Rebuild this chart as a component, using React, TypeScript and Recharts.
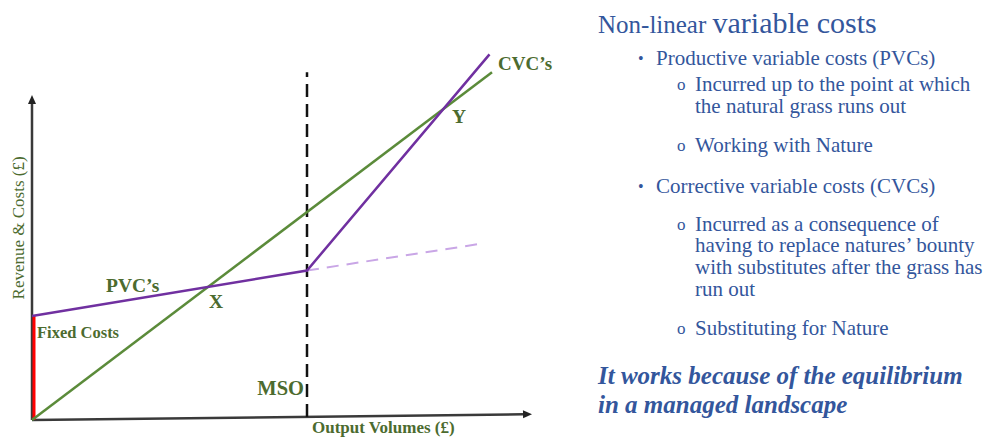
import { ComposedChart, Line, XAxis, YAxis, ReferenceLine, ReferenceDot } from 'recharts';

// chart values (x = output volume, y = revenue & costs)
const fixedCosts = 32;
const mso = 55;
const revenue = [
  { x: 0, y: 0 },
  { x: 92, y: 107 },
];
const variableCosts = [
  { x: 0, y: fixedCosts },
  { x: mso, y: 46 },
  { x: 91.5, y: 112.5 },
];
const pvcExtension = [
  { x: mso, y: 46 },
  { x: 90.5, y: 54.4 },
];
const xAxisEnds = [
  { x: 0, y: 0 },
  { x: 100, y: 1.8 },
];
const yAxisEnds = [
  { x: 0, y: 0 },
  { x: 0, y: 100 },
];

const GREEN = '#5b8b3a';
const LABEL_GREEN = '#4c6b2f';
const PURPLE = '#7030a0';
const BLUE = '#33569c';
const SERIF = '"Liberation Serif", "Times New Roman", serif';

function arrowLine(props: any) {
  const { x1, y1, x2, y2 } = props;
  const a = Math.atan2(y2 - y1, x2 - x1);
  const len = 9;
  const w = 4;
  const bx = x2 - len * Math.cos(a);
  const by = y2 - len * Math.sin(a);
  const px = -Math.sin(a) * w;
  const py = Math.cos(a) * w;
  return (
    <g>
      <line x1={x1} y1={y1} x2={bx} y2={by} stroke="#3a3a3a" strokeWidth={2.5} />
      <polygon points={`${x2},${y2} ${bx + px},${by + py} ${bx - px},${by - py}`} fill="#222" />
    </g>
  );
}

function textAt(text: string, size: number, anchor: 'start' | 'middle' | 'end' = 'start', weight = 700, rotate = false) {
  return (p: any) => (
    <text
      x={p.cx}
      y={p.cy}
      fontFamily={SERIF}
      fontSize={size}
      fontWeight={weight}
      fill={LABEL_GREEN}
      textAnchor={anchor}
      transform={rotate ? `rotate(-90 ${p.cx} ${p.cy})` : undefined}
    >
      {text}
    </text>
  );
}

const lineProps = {
  dataKey: 'y',
  dot: false,
  activeDot: false,
  legendType: 'none' as const,
  isAnimationActive: false,
};

export default function App() {
  const sub = (y: number, lines: string[], pitch = 21.5) => (
    <g>
      <text x={677} y={y - 1} fontSize={17}>o</text>
      {lines.map((l, i) => (
        <text key={i} x={695} y={y + i * pitch}>{l}</text>
      ))}
    </g>
  );
  const bullet = (y: number, t: string) => (
    <g>
      <text x={638} y={y - 1} fontSize={16}>•</text>
      <text x={656} y={y}>{t}</text>
    </g>
  );

  return (
    <div style={{ position: 'absolute', left: 0, top: 0, width: 989, height: 437, background: '#fff' }}>
      <ComposedChart width={989} height={437} margin={{ top: 0, right: 0, bottom: 0, left: 0 }}>
        <XAxis type="number" dataKey="x" domain={[-6.4, 191.4]} allowDataOverflow hide />
        <YAxis type="number" dataKey="y" domain={[-5.23, 129.23]} allowDataOverflow hide />

        <ReferenceLine segment={xAxisEnds} shape={arrowLine} ifOverflow="visible" />
        <ReferenceLine segment={yAxisEnds} shape={arrowLine} ifOverflow="visible" />

        <ReferenceLine
          segment={[{ x: mso, y: 0.9 }, { x: mso, y: 107 }]}
          stroke="#111"
          strokeWidth={2.5}
          strokeDasharray="13 7"
        />
        <ReferenceLine
          segment={[{ x: 0.4, y: 0 }, { x: 0.4, y: fixedCosts }]}
          stroke="#ff0000"
          strokeWidth={3}
        />

        <Line {...lineProps} data={pvcExtension} stroke="#c9a6e6" strokeWidth={2} strokeDasharray="12 8" />
        <Line {...lineProps} data={revenue} stroke={GREEN} strokeWidth={2.5} />
        <Line {...lineProps} data={variableCosts} stroke={PURPLE} strokeWidth={2.5} />

        <ReferenceDot x={14.8} y={39.4} r={0} shape={textAt("PVC’s", 19.5)} />
        <ReferenceDot x={35.4} y={34.5} r={0} shape={textAt('X', 19.5)} />
        <ReferenceDot x={1} y={25.2} r={0} shape={textAt('Fixed Costs', 16.5)} />
        <ReferenceDot x={54.4} y={7.7} r={0} shape={textAt('MSO', 20.5, 'end')} />
        <ReferenceDot x={84} y={91.4} r={0} shape={textAt('Y', 19.5)} />
        <ReferenceDot x={93.2} y={107.7} r={0} shape={textAt("CVC’s", 19)} />
        <ReferenceDot x={56} y={-4} r={0} shape={textAt('Output Volumes (£)', 17)} ifOverflow="visible" />
        <ReferenceDot x={-1.6} y={59.1} r={0} shape={textAt('Revenue & Costs (£)', 17, 'middle', 400, true)} ifOverflow="visible" />
      </ComposedChart>

      <svg
        width={989}
        height={437}
        style={{ position: 'absolute', left: 0, top: 0, pointerEvents: 'none' }}
        fontFamily={SERIF}
        fontSize={21}
        fill={BLUE}
      >
        <text x={598} y={33}>
          <tspan fontSize={25}>Non-linear </tspan>
          <tspan fontSize={30}>variable costs</tspan>
        </text>
        {bullet(65, 'Productive variable costs (PVCs)')}
        {sub(91, ['Incurred up to the point at which', 'the natural grass runs out'], 21.9)}
        {sub(151.5, ['Working with Nature'])}
        {bullet(193, 'Corrective variable costs (CVCs)')}
        {sub(230.5, [
          'Incurred as a consequence of',
          'having to replace natures’ bounty',
          'with substitutes after the grass has',
          'run out',
        ], 21.9)}
        {sub(335, ['Substituting for Nature'])}
        <text x={598} y={384} fontSize={25} fontWeight={700} fontStyle="italic">It works because of the equilibrium</text>
        <text x={598} y={412.5} fontSize={25} fontWeight={700} fontStyle="italic">in a managed landscape</text>
      </svg>
    </div>
  );
}
